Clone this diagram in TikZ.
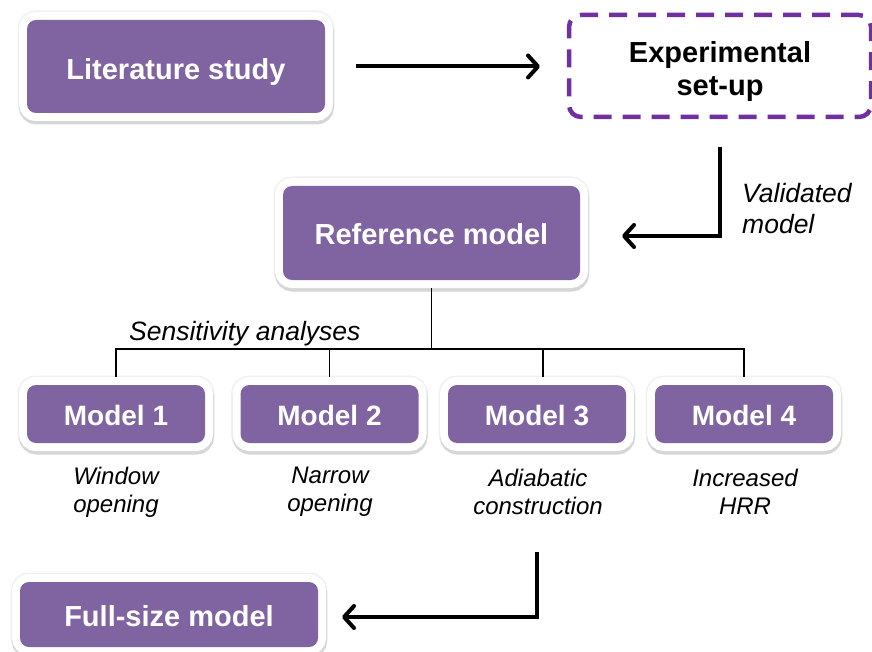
\documentclass[tikz,border=0pt]{standalone}
\usepackage{fontspec}
\setmainfont{Liberation Sans}
\usetikzlibrary{arrows.meta,calc}
\definecolor{boxpurple}{HTML}{8064A2}
\definecolor{dashpurple}{HTML}{7030A0}
\begin{document}
\begin{tikzpicture}[x=1pt,y=-1pt,
  pbox/.style={rectangle, rounded corners=9pt, fill=boxpurple, text=white,
    font=\fontsize{29}{32}\selectfont\bfseries, inner sep=0pt, outer sep=0pt,
    text depth=0pt, text height=22pt,
    preaction={draw=black!6, line width=19pt},
    preaction={draw=black!16, line width=17pt, transform canvas={xshift=0.5pt,yshift=-3pt}},
    preaction={draw=white, line width=16pt}},
  dbox/.style={rectangle, rounded corners=12pt, draw=dashpurple, line width=4.5pt,
    dash pattern=on 18pt off 11pt, inner sep=0pt, outer sep=0pt},
  dtext/.style={align=center, inner sep=0pt, font=\fontsize{29}{33}\selectfont\bfseries},
  lab/.style={align=center, inner sep=0pt, font=\fontsize{24}{28}\selectfont\itshape},
  arr/.style={line width=4pt, -{Straight Barb[length=10pt,width=22pt,round]}},
  tree/.style={line width=1.4pt}]
\path[use as bounding box] (0,0) rectangle (872,652);

\node[pbox, text height=27pt, minimum width=298pt, minimum height=93pt] (lit) at (176,66.5) {Literature study};
\node[dbox, minimum width=302pt, minimum height=102pt] (exp) at (720,66) {};
\node[dtext] (expt) at (720,72) {Experimental\\set-up};
\node[pbox, text height=24pt, minimum width=297pt, minimum height=94pt] (ref) at (431.5,233) {Reference model};

\node[pbox, font=\fontsize{28}{32}\selectfont\bfseries, minimum width=178pt, minimum height=58pt] (m1) at (116,414) {Model 1};
\node[pbox, font=\fontsize{28}{32}\selectfont\bfseries, minimum width=178pt, minimum height=58pt] (m2) at (329.5,414) {Model 2};
\node[pbox, font=\fontsize{28}{32}\selectfont\bfseries, minimum width=178pt, minimum height=58pt] (m3) at (537,414) {Model 3};
\node[pbox, font=\fontsize{28}{32}\selectfont\bfseries, minimum width=178pt, minimum height=58pt] (m4) at (744,414) {Model 4};

\node[pbox, text height=23pt, minimum width=298pt, minimum height=65pt] (full) at (169,614.5) {Full-size model};

\node[lab] (l1) at (116,492) {Window\\opening};
\node[lab] (l2) at (330,492) {Narrow\\opening};
\node[lab] (l3) at (538,492) {Adiabatic\\construction};
\node[lab] (l4) at (745,492) {Increased\\HRR};

\node[lab, anchor=west, font=\fontsize{26.5}{30}\selectfont\itshape] (sens) at (129,334) {Sensitivity analyses};
\node[lab, anchor=west, align=left, font=\fontsize{26.5}{31}\selectfont\itshape] (val) at (742,209) {Validated\\model};

\draw[arr] ([xshift=31pt]lit.east) -- ([xshift=-29pt]exp.west |- lit.east);
\draw[arr] ([yshift=-30pt]exp.south) |- ([xshift=42pt,yshift=-3pt]ref.east);

\coordinate (hb) at (0,349);
\draw[tree] ([yshift=-8pt]ref.south) -- (ref.south |- hb);
\draw[tree] ([yshift=8pt]m1.north) -- (m1.north |- hb) -- (m4.north |- hb) -- ([yshift=8pt]m4.north);
\draw[tree] ([yshift=8pt]m2.north) -- (m2.north |- hb);
\draw[tree] ([xshift=6pt,yshift=8pt]m3.north) -- ([xshift=6pt]m3.north |- hb);

\coordinate (c3) at (537,552);
\draw[arr] (c3) |- ([xshift=24pt,yshift=-2.5pt]full.east);
\end{tikzpicture}
\end{document}
